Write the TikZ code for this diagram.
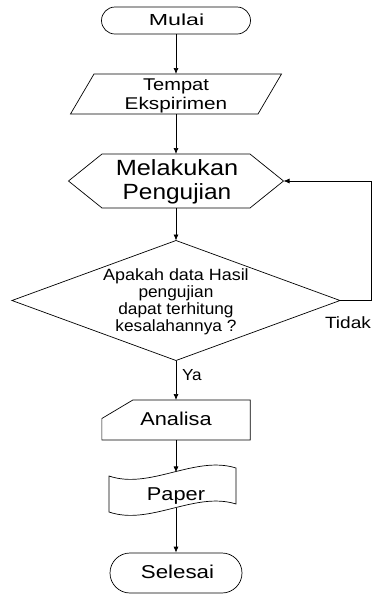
\documentclass[tikz,border=0pt]{standalone}
\usepackage{fontspec}
\usepackage{graphicx}
\setmainfont{Liberation Sans}
\usetikzlibrary{arrows.meta,calc}
\tikzset{
  line/.style={draw=black,line width=0.7pt},
  arr/.style={line,-{Latex[length=6pt,width=5pt]}},
  frame/.style={draw=none,inner sep=0pt,outer sep=0pt},
  txt/.style={inner sep=0pt,outer sep=0pt,anchor=base,align=center}
}
\newcommand\hs[2]{\scalebox{#1}[1]{#2}}
\begin{document}
\begin{tikzpicture}[x=1pt,y=-1pt]
\useasboundingbox (0,0) rectangle (373,595);
% shapes
\node[line, rounded corners=13.5pt, minimum width=149pt, minimum height=27pt, inner sep=0pt] (mulai) at (176,20.5) {};
\node[frame, minimum width=211pt, minimum height=40pt] (tempat) at (176,94) {};
\draw[line] ([xshift=23.5pt]tempat.north west) -- (tempat.north east) -- ([xshift=-23.5pt]tempat.south east) -- (tempat.south west) -- cycle;
\node[frame, minimum width=215pt, minimum height=54pt] (uji) at (176,181) {};
\draw[line] (uji.west) -- ([xshift=33.5pt]uji.north west) -- ([xshift=-33.5pt]uji.north east) -- (uji.east) -- ([xshift=-33.5pt]uji.south east) -- ([xshift=33.5pt]uji.south west) -- cycle;
\node[frame, minimum width=328pt, minimum height=120pt] (cek) at (176,300.5) {};
\draw[line] (cek.north) -- (cek.east) -- (cek.south) -- (cek.west) -- cycle;
\node[frame, minimum width=148.3pt, minimum height=40pt] (analisa) at (176,420) {};
\draw[line] ([yshift=-18.5pt]analisa.north west) -- ([xshift=31pt]analisa.north west) -- (analisa.north east) -- (analisa.south east) -- (analisa.south west) -- cycle;
\node[frame, minimum width=127pt, minimum height=36pt] (paper) at (172.5,490.4) {};
\draw[line] (109,476) .. controls (150,490) and (195,455) .. (236,468) -- (236,504) .. controls (195,491) and (150,526) .. (109,512) -- cycle;
\node[line, rounded corners=20pt, minimum width=132pt, minimum height=40pt, inner sep=0pt] (selesai) at (176,573) {};
% texts
\node[txt, font=\fontsize{16}{19}\selectfont] (t-mulai) at (176.5,25.7) {\hs{1.45}{Mulai}};
\node[txt, anchor=center, font=\fontsize{17}{19}\selectfont] (t-tempat) at (176,96.2) {\hs{1.18}{Tempat}\\\hs{1.22}{Ekspirimen}};
\node[txt, anchor=center, font=\fontsize{22}{24}\selectfont] (t-uji) at (177,182.3) {\hs{1.15}{Melakukan}\\\hs{1.11}{Pengujian}};
\node[txt, anchor=center, font=\fontsize{16.3}{16.7}\selectfont] (t-cek) at (176,301.8) {\hs{1.1}{Apakah data Hasil}\\\hs{1.06}{pengujian}\\\hs{1.06}{dapat terhitung}\\\hs{1.06}{kesalahannya ?}};
\node[txt, font=\fontsize{18.6}{22}\selectfont] (t-analisa) at (176,425) {\hs{1.17}{Analisa}};
\node[txt, font=\fontsize{18.6}{22}\selectfont] (t-paper) at (176,500) {\hs{1.17}{Paper}};
\node[txt, font=\fontsize{18.6}{22}\selectfont] (t-selesai) at (177.5,578.3) {\hs{1.2}{Selesai}};
\node[txt, anchor=base west, font=\fontsize{16}{19}\selectfont] (ya) at (182,380) {\hs{1.07}{Ya}};
\node[txt, anchor=base west, font=\fontsize{16.3}{19}\selectfont] (tidak) at (325,328) {\hs{1.17}{Tidak}};
% connectors
\draw[arr] (mulai.south) -- (tempat.north);
\draw[arr] (tempat.south) -- (uji.north);
\draw[arr] (uji.south) -- (cek.north);
\draw[arr] (cek.south) -- (analisa.north);
\draw[arr] (analisa.south) -- (analisa.south |- paper.north);
\draw[arr] (selesai.north |- paper.south) -- (selesai.north);
\coordinate (fb) at (371,300.5);
\draw[arr] (cek.east) -- (fb) |- (uji.east);
\end{tikzpicture}
\end{document}
